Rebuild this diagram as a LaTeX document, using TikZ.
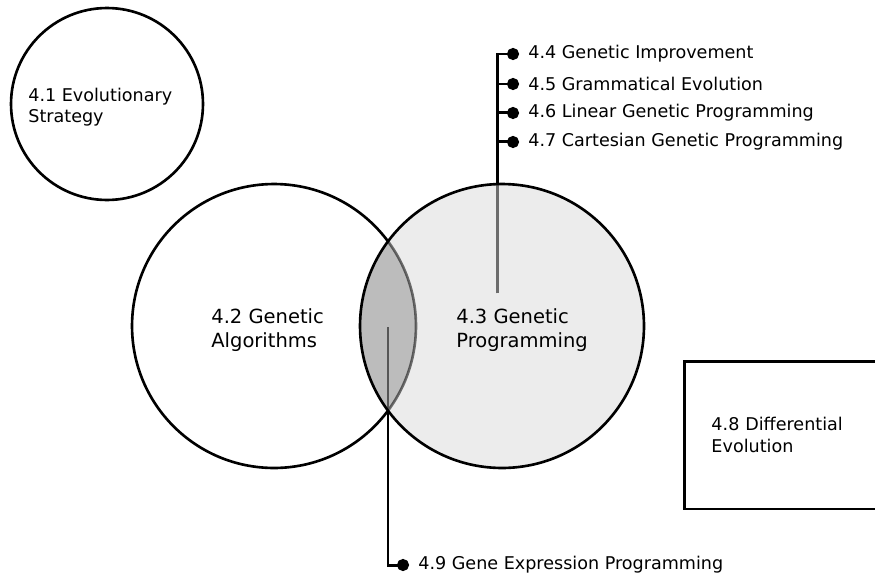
\documentclass[tikz,border=0pt]{standalone}
\usepackage{fontspec}
\setmainfont{DejaVu Sans}
\usetikzlibrary{arrows.meta, positioning}
\tikzstyle{area} = [circle, draw=black, line width=1.5pt, inner sep=0pt]
\tikzstyle{areatext} = [align=left, inner sep=0pt, anchor=west, font=\fontsize{11.1}{13.6}\selectfont]
\tikzstyle{smalltext} = [align=left, inner sep=0pt, anchor=west, font=\fontsize{10}{12.2}\selectfont]
\tikzstyle{item} = [anchor=west, inner xsep=0.18cm, inner ysep=0pt, font=\fontsize{10}{12}\selectfont]
\tikzstyle{link} = [line width=1.7pt, -{Circle[length=0.24cm]}]
\tikzstyle{sectbox} = [rectangle, draw=black, line width=1.7pt, minimum height=2.96cm, text width=3.6cm, inner xsep=0.54cm, align=left, anchor=west, font=\fontsize{10}{12.5}\selectfont]

\begin{document}
\begin{tikzpicture}[x=0.02cm, y=-0.02cm]
\useasboundingbox (0,0) rectangle (875,575);
\clip (0,0) rectangle (875,575);

% evolutionary strategy
\node (es) [area, minimum size=3.84cm] at (107,104) {};
\node (estext) [smalltext] at (28,107) {4.1 Evolutionary\\Strategy};

% genetic algorithms
\node (ga) [area, minimum size=5.68cm] at (274,326) {};
\node (gatext) [areatext] at (211,330) {4.2 Genetic\\Algorithms};

% sub areas
\coordinate (gpin) at (497,293);
\coordinate (gepin) at (388,327);
\node (gi) [item] at (519,54) {4.4 Genetic Improvement};
\node (ge) [item, below=0.6cm of gi.west, anchor=west] {4.5 Grammatical Evolution};
\node (lgp) [item, below=0.58cm of ge.west, anchor=west] {4.6 Linear Genetic Programming};
\node (cgp) [item, below=0.58cm of lgp.west, anchor=west] {4.7 Cartesian Genetic Programming};
\node (gep) [item] at (409,565) {4.9 Gene Expression Programming};

\draw [link] (gpin) |- (gi);
\draw [link] (gpin) |- (ge);
\draw [link] (gpin) |- (lgp);
\draw [link] (gpin) |- (cgp);
\draw [link] (gepin) |- (gep);

% genetic programming, over the links
\node (gp) [area, minimum size=5.68cm, fill=black!15, fill opacity=0.5] at (502,326) {};
\begin{scope}
\clip (gp.center) circle (2.84cm);
\fill [black, opacity=0.2] (ga.center) circle (2.84cm);
\end{scope}
\node (gptext) [areatext] at (456,330) {4.3 Genetic\\Programming};

% differential evolution
\node (de) [sectbox] at (683,435) {4.8 Differential\\Evolution};
\end{tikzpicture}
\end{document}
